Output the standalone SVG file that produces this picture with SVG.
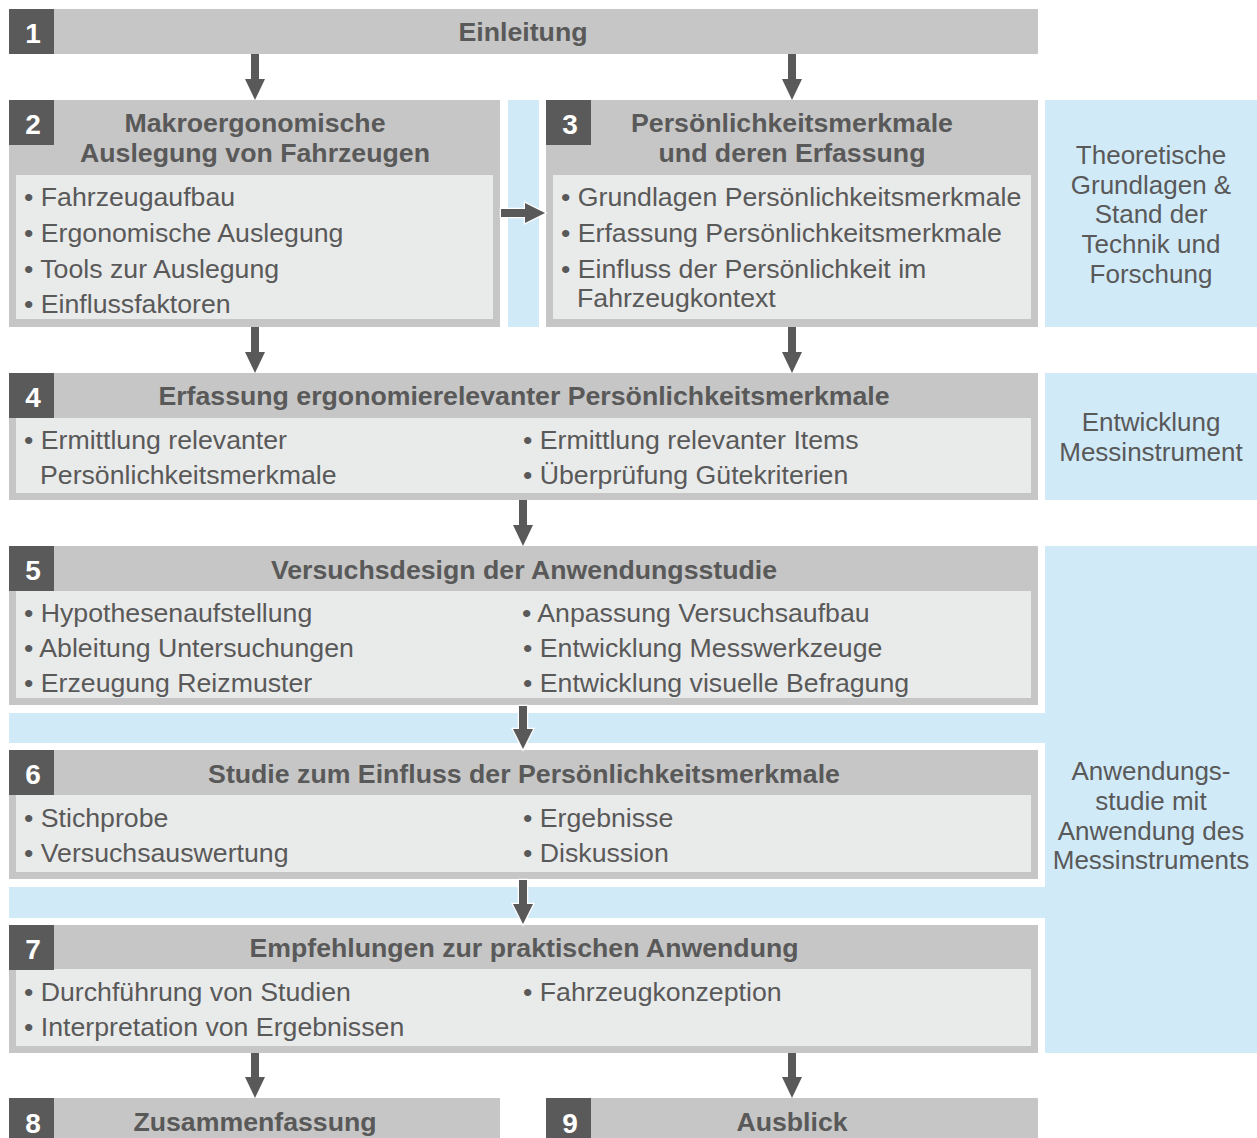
<svg xmlns="http://www.w3.org/2000/svg" width="1257" height="1138" viewBox="0 0 1257 1138">
<style>
.hdr{fill:#c6c6c6}
.inner{fill:#e9eaea}
.num{fill:#5a5a5a}
.blue{fill:#d1eaf8}
.numt{font-family:"Liberation Sans",Arial,sans-serif;font-weight:bold;font-size:28px;fill:#ffffff;text-anchor:middle}
.ht{font-family:"Liberation Sans",Arial,sans-serif;font-weight:bold;font-size:26.7px;fill:#595959;text-anchor:middle}
.bt{font-family:"Liberation Sans",Arial,sans-serif;font-size:26.7px;fill:#595959}
.blt{font-family:"Liberation Sans",Arial,sans-serif;font-size:26px;fill:#595959;text-anchor:middle}
.arr{fill:#595959}
.arro{fill:#595959;stroke:#ffffff;stroke-width:2.5;paint-order:stroke}
</style>
<rect width="1257" height="1138" fill="#ffffff"/>
<g id="background-bands">
<rect class="blue" x="508" y="100" width="31" height="227"/>
<rect class="blue" x="9" y="713" width="1036" height="30"/>
<rect class="blue" x="9" y="887" width="1036" height="31"/>
</g>
<g id="label-theorie">
<rect class="blue" x="1045" y="100" width="212" height="227"/>
<text class="blt" x="1151" y="164">Theoretische</text>
<text class="blt" x="1151" y="194">Grundlagen &amp;</text>
<text class="blt" x="1151" y="223">Stand der</text>
<text class="blt" x="1151" y="253">Technik und</text>
<text class="blt" x="1151" y="283">Forschung</text>
</g>
<g id="label-entwicklung">
<rect class="blue" x="1045" y="373" width="212" height="127"/>
<text class="blt" x="1151" y="431">Entwicklung</text>
<text class="blt" x="1151" y="461">Messinstrument</text>
</g>
<g id="label-anwendung">
<rect class="blue" x="1045" y="546" width="212" height="507"/>
<text class="blt" x="1151" y="780">Anwendungs-</text>
<text class="blt" x="1151" y="810">studie mit</text>
<text class="blt" x="1151" y="840">Anwendung des</text>
<text class="blt" x="1151" y="869">Messinstruments</text>
</g>
<g id="node1">
<rect class="hdr" x="9" y="9" width="1029" height="45"/>
<rect class="num" x="9" y="9" width="45" height="45"/>
<text class="numt" x="33" y="43">1</text>
<text class="ht" x="523" y="41">Einleitung</text>
</g>
<g id="node2">
<rect class="hdr" x="9" y="100" width="491" height="227"/>
<rect class="inner" x="16" y="175" width="477" height="144"/>
<rect class="num" x="9" y="100" width="45" height="45"/>
<text class="numt" x="33" y="134">2</text>
<text class="ht" x="255" y="132">Makroergonomische</text>
<text class="ht" x="255" y="162">Auslegung von Fahrzeugen</text>
<text class="bt" x="24" y="206">• Fahrzeugaufbau</text>
<text class="bt" x="24" y="242">• Ergonomische Auslegung</text>
<text class="bt" x="24" y="278">• Tools zur Auslegung</text>
<text class="bt" x="24" y="313">• Einflussfaktoren</text>
</g>
<g id="node3">
<rect class="hdr" x="546" y="100" width="492" height="227"/>
<rect class="inner" x="553" y="175" width="478" height="144"/>
<rect class="num" x="546" y="100" width="45" height="45"/>
<text class="numt" x="570" y="134">3</text>
<text class="ht" x="792" y="132">Persönlichkeitsmerkmale</text>
<text class="ht" x="792" y="162">und deren Erfassung</text>
<text class="bt" x="561" y="206">• Grundlagen Persönlichkeitsmerkmale</text>
<text class="bt" x="561" y="242">• Erfassung Persönlichkeitsmerkmale</text>
<text class="bt" x="561" y="278">• Einfluss der Persönlichkeit im</text>
<text class="bt" x="577" y="307">Fahrzeugkontext</text>
</g>
<g id="node4">
<rect class="hdr" x="9" y="373" width="1029" height="127"/>
<rect class="inner" x="16" y="418" width="1015" height="75"/>
<rect class="num" x="9" y="373" width="45" height="45"/>
<text class="numt" x="33" y="407">4</text>
<text class="ht" x="524" y="405">Erfassung ergonomierelevanter Persönlichkeitsmerkmale</text>
<text class="bt" x="24" y="449">• Ermittlung relevanter</text>
<text class="bt" x="40" y="484">Persönlichkeitsmerkmale</text>
<text class="bt" x="523" y="449">• Ermittlung relevanter Items</text>
<text class="bt" x="523" y="484">• Überprüfung Gütekriterien</text>
</g>
<g id="node5">
<rect class="hdr" x="9" y="546" width="1029" height="159"/>
<rect class="inner" x="16" y="591" width="1015" height="107"/>
<rect class="num" x="9" y="546" width="45" height="45"/>
<text class="numt" x="33" y="580">5</text>
<text class="ht" x="524" y="579">Versuchsdesign der Anwendungsstudie</text>
<text class="bt" x="24" y="622">• Hypothesenaufstellung</text>
<text class="bt" x="24" y="657">• Ableitung Untersuchungen</text>
<text class="bt" x="24" y="692">• Erzeugung Reizmuster</text>
<text class="bt" x="522" y="622">• Anpassung Versuchsaufbau</text>
<text class="bt" x="523" y="657">• Entwicklung Messwerkzeuge</text>
<text class="bt" x="523" y="692">• Entwicklung visuelle Befragung</text>
</g>
<g id="node6">
<rect class="hdr" x="9" y="750" width="1029" height="129"/>
<rect class="inner" x="16" y="795" width="1015" height="77"/>
<rect class="num" x="9" y="750" width="45" height="45"/>
<text class="numt" x="33" y="784">6</text>
<text class="ht" x="524" y="783">Studie zum Einfluss der Persönlichkeitsmerkmale</text>
<text class="bt" x="24" y="827">• Stichprobe</text>
<text class="bt" x="24" y="862">• Versuchsauswertung</text>
<text class="bt" x="523" y="827">• Ergebnisse</text>
<text class="bt" x="523" y="862">• Diskussion</text>
</g>
<g id="node7">
<rect class="hdr" x="9" y="925" width="1029" height="128"/>
<rect class="inner" x="16" y="969" width="1015" height="77"/>
<rect class="num" x="9" y="925" width="45" height="45"/>
<text class="numt" x="33" y="959">7</text>
<text class="ht" x="524" y="957">Empfehlungen zur praktischen Anwendung</text>
<text class="bt" x="24" y="1001">• Durchführung von Studien</text>
<text class="bt" x="24" y="1036">• Interpretation von Ergebnissen</text>
<text class="bt" x="523" y="1001">• Fahrzeugkonzeption</text>
</g>
<g id="node8">
<rect class="hdr" x="9" y="1098" width="491" height="50"/>
<rect class="num" x="9" y="1098" width="45" height="50"/>
<text class="numt" x="33" y="1133">8</text>
<text class="ht" x="255" y="1131">Zusammenfassung</text>
</g>
<g id="node9">
<rect class="hdr" x="546" y="1098" width="492" height="50"/>
<rect class="num" x="546" y="1098" width="45" height="50"/>
<text class="numt" x="570" y="1133">9</text>
<text class="ht" x="792" y="1131">Ausblick</text>
</g>
<g id="connectors">
<polygon class="arr" points="251,54 259,54 259,79 265,79 255,100 245,79 251,79"/>
<polygon class="arr" points="788,54 796,54 796,79 802,79 792,100 782,79 788,79"/>
<polygon class="arro" points="501,209 525,209 525,203 545,213 525,223 525,217 501,217"/>
<polygon class="arr" points="251,327 259,327 259,352 265,352 255,373 245,352 251,352"/>
<polygon class="arr" points="788,327 796,327 796,352 802,352 792,373 782,352 788,352"/>
<polygon class="arr" points="519,500 527,500 527,525 533,525 523,546 513,525 519,525"/>
<polygon class="arro" points="519,706 527,706 527,729 533,729 523,749 513,729 519,729"/>
<polygon class="arro" points="519,880 527,880 527,904 533,904 523,924 513,904 519,904"/>
<polygon class="arr" points="251,1053 259,1053 259,1077 265,1077 255,1098 245,1077 251,1077"/>
<polygon class="arr" points="788,1053 796,1053 796,1077 802,1077 792,1098 782,1077 788,1077"/>
</g>
</svg>
